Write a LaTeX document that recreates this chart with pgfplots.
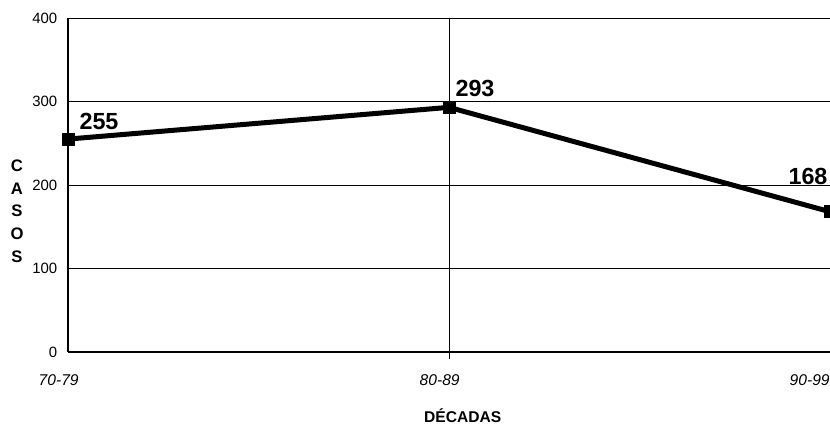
\documentclass[border=0pt]{standalone}
\usepackage{fontspec}
\setmainfont{Liberation Sans}
\usepackage{pgfplots}
\pgfplotsset{compat=1.18}
\begin{document}
\begin{tikzpicture}
\useasboundingbox (-51pt,-55.5pt) rectangle (571.5pt,264pt);
\begin{axis}[
  at={(0,0)}, anchor=south west,
  scale only axis, width=571.5pt, height=250.5pt,
  xmin=0, xmax=2, ymin=0, ymax=400,
  clip=false,
  axis x line*=bottom, axis y line*=left,
  axis line style={black, line width=0.8pt},
  ytick={0,100,200,300,400},
  ymajorgrids, major grid style={black, line width=0.6pt},
  xtick={0,1,2}, xticklabels={70-79,80-89,{\kern-16.5pt 90-99}},
  major tick length=0pt,
  tick style={black, line width=0.6pt},
  extra x ticks={1}, extra x tick labels={},
  extra x tick style={grid=major, major tick length=5pt, tick align=outside},
  /pgf/number format/assume math mode=true,
  yticklabel style={font=\fontsize{11.2}{13}\selectfont, xshift=-4.5pt},
  xticklabel style={font=\itshape\fontsize{11.7}{14}\selectfont, xshift=-7pt, yshift=-13.5pt},
  xlabel={DÉCADAS},
  xlabel style={at={(axis description cs:0.518,0)}, anchor=center, yshift=-48pt, font=\bfseries\fontsize{11.7}{14}\selectfont},
  ylabel={C\\A\\S\\O\\S},
  ylabel style={rotate=-90, at={(axis description cs:0,0.422)}, anchor=center, xshift=-38.25pt, align=center, font=\bfseries\fontsize{12.5}{17}\selectfont},
]
\addplot[black, line width=3.75pt, mark=square*, mark size=4.5pt,
  mark options={line width=0.5pt},
  nodes near coords, point meta=explicit symbolic,
  visualization depends on={\thisrow{dx}\as\dx},
  visualization depends on={\thisrow{dy}\as\dy},
  every node near coord/.append style={anchor=center, xshift=\dx pt, yshift=\dy pt, font=\bfseries\fontsize{17.5}{20}\selectfont}]
  table[x=x, y=y, meta=lab]{
x y lab dx dy
0 255 255 23.25 13.5
1 293 293 19.5 14.25
2 168 168 -16.5 26.25
};
\end{axis}
\end{tikzpicture}
\end{document}
